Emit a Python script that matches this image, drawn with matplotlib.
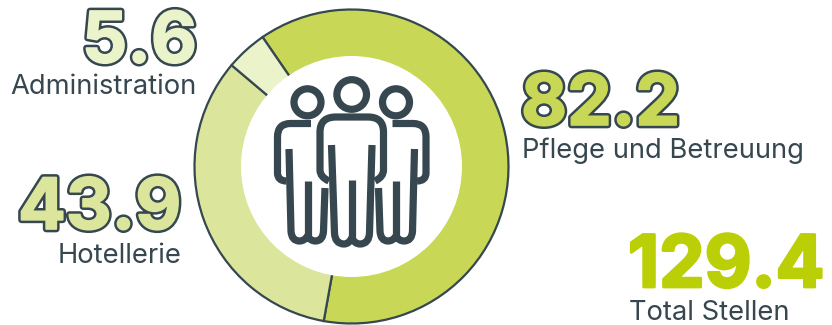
import matplotlib
matplotlib.use('Agg')
import matplotlib.pyplot as plt
from matplotlib.patches import Circle, PathPatch
from matplotlib.path import Path
import matplotlib.patheffects as pe

# ---------- data ----------
categories = ['Pflege und Betreuung', 'Hotellerie', 'Administration']
values = [82.2, 43.9, 5.6]
total_label = '129.4'
total_name = 'Total Stellen'

DARK = '#36474f'
GREEN = '#c8d856'
GREEN_MID = '#dbe69c'
GREEN_LIGHT = '#ebf3cb'
GREEN_TOTAL = '#bbcf06'
colors = [GREEN, GREEN_MID, GREEN_LIGHT]

plt.rcParams['font.family'] = ['Inter', 'DejaVu Sans']

fig = plt.figure(figsize=(8.32, 3.25), dpi=100)
ax = fig.add_axes([0, 0, 1, 1])

# ---------- ring ----------
# y axis points down, so counterclockwise in data runs clockwise on screen
CX, CY = 351.5, 166.5
ax.pie(values, colors=colors, center=(CX, CY), radius=157, startangle=-124.5,
       counterclock=True, wedgeprops=dict(edgecolor=DARK, linewidth=1.6))
ax.add_patch(Circle((CX, CY), 110.5, facecolor='white', edgecolor='none', zorder=3))
ax.set_xlim(0, 832)
ax.set_ylim(325, 0)
ax.set_aspect('equal')
ax.axis('off')

# ---------- people icon ----------
M, L, Q = Path.MOVETO, Path.LINETO, Path.CURVE3
ICON_LW = 5.2


def stroke(*segs):
    """Draw one icon outline; segs are (code, x, y), a curve takes two entries."""
    verts = [(x, y) for _, x, y in segs]
    codes = [c for c, _, _ in segs]
    ax.add_patch(PathPatch(Path(verts, codes), facecolor='none', edgecolor=DARK,
                           linewidth=ICON_LW, capstyle='butt', joinstyle='round', zorder=4))


def person(cx, flip=1):
    # side figure: outer arm, inner body line, middle leg line
    def fx(d):
        return cx + flip * d
    stroke((M, fx(3.5), 123.5), (L, fx(-17), 123.5), (Q, fx(-30), 123.5), (Q, fx(-30), 137),
           (L, fx(-30), 173), (Q, fx(-30), 181), (Q, fx(-21), 181))
    stroke((M, fx(-18.5), 149), (L, fx(-16.5), 231), (Q, fx(-16), 241), (Q, fx(-8), 241),
           (Q, fx(-3), 241), (Q, fx(0), 236), (Q, fx(3), 241), (Q, fx(8), 241),
           (Q, fx(15.5), 241), (Q, fx(16), 231), (L, fx(17.5), 188))
    stroke((M, fx(0), 181), (L, fx(0), 236))


for hx, hy, r in [(307.5, 102.3, 13.5), (351.7, 94.5, 14.8), (396.0, 102.3, 13.5)]:
    ax.add_patch(Circle((hx, hy), r, facecolor='none', edgecolor=DARK, linewidth=ICON_LW, zorder=4))

person(307.5, 1)
person(396.0, -1)

# middle figure
stroke((M, 329, 181), (Q, 320, 177), (Q, 320, 170), (L, 320, 132), (Q, 320, 117), (Q, 336, 117),
       (L, 368, 117), (Q, 383.5, 117), (Q, 383.5, 132), (L, 383.5, 170), (Q, 383.5, 177), (Q, 375, 181))
stroke((M, 331.5, 145), (L, 334.5, 233), (Q, 335, 244), (Q, 344, 244), (Q, 349, 244),
       (Q, 351.7, 238), (Q, 355, 244), (Q, 360, 244), (Q, 369, 244), (Q, 369.5, 233), (L, 372, 145))
stroke((M, 351.7, 180), (L, 351.7, 238))

# ---------- labels ----------
big = dict(fontweight='bold', va='baseline', ha='left', zorder=5)


def outlined(face):
    # heavier digits: dark contour first, slightly swollen fill on top
    return [pe.Stroke(linewidth=4.8, foreground=DARK), pe.Stroke(linewidth=1.2, foreground=face)]


ax.text(82, 62.5, f'{values[2]}', fontsize=51, color=GREEN_LIGHT, path_effects=outlined(GREEN_LIGHT), **big)
ax.text(521, 125, f'{values[0]}', fontsize=51, color=GREEN, path_effects=outlined(GREEN), **big)
ax.text(18, 229, f'{values[1]}', fontsize=51, color=GREEN_MID, path_effects=outlined(GREEN_MID), **big)
ax.text(628, 287, total_label, fontsize=52, color=GREEN_TOTAL,
        path_effects=[pe.Stroke(linewidth=2.0, foreground=GREEN_TOTAL)], **big)

small = dict(fontsize=19.7, color=DARK, va='baseline', ha='left', zorder=5)
ax.text(10, 94, categories[2], **small)
ax.text(522, 158, categories[0], **small)
ax.text(58, 263, categories[1], **small)
ax.text(629, 320, total_name, **small)

fig.savefig('out.png', dpi=100)
